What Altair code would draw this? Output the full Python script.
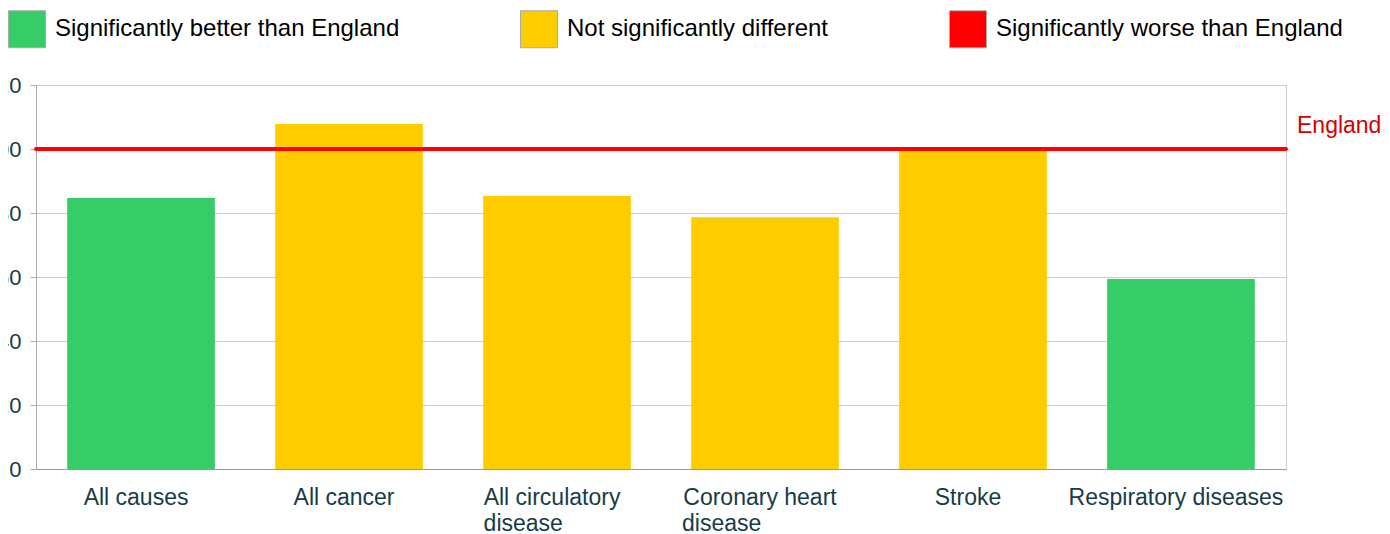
import altair as alt
import pandas as pd

NB = "\u00a0"
ZW = "\u200b"
causes = ["All causes", "All cancer", "All circulatory disease",
          "Coronary heart disease", "Stroke", "Respiratory diseases"]
labels = ["All causes", "All cancer", "All circulatory|disease" + NB * 9 + ZW,
          "Coronary heart|disease" + NB * 12 + ZW, "Stroke", "Respiratory diseases"]
values = [84.7, 107.8, 85.3, 78.7, 99.7, 59.4]
significance = ["Significantly better than England", "Not significantly different",
                "Not significantly different", "Not significantly different",
                "Not significantly different", "Significantly better than England"]
sig_domain = ["Significantly better than England", "Not significantly different",
              "Significantly worse than England"]
sig_colors = ["#36cd68", "#ffcc00", "#ff0000"]
england_value = 100
y_ticks = [0, 20, 40, 60, 80, 100, 120]

df = pd.DataFrame({"cause": labels, "value": values, "sig": significance})

FONT = "Liberation Sans"
TXT = "#173c48"

bars = alt.Chart(df).mark_bar().encode(
    x=alt.X("cause:N", sort=labels,
            scale=alt.Scale(paddingInner=0.29, paddingOuter=0.15),
            axis=alt.Axis(title=None, labelAngle=0, labelFontSize=23, labelFont=FONT,
                          labelColor=TXT, labelLineHeight=26, labelPadding=17,
                          labelExpr="split(datum.label, '|')", labelOffset=-5,
                          ticks=False, domainColor="#999999", labelLimit=400)),
    y=alt.Y("value:Q", scale=alt.Scale(domain=[0, 120], nice=False),
            axis=alt.Axis(title=None, values=y_ticks, labelFontSize=22, labelFont=FONT,
                          labelColor=TXT, tickSize=6, tickColor="#aaaaaa",
                          domainColor="#aaaaaa", gridColor="#cccccc", labelPadding=9)),
    color=alt.Color("sig:N", scale=alt.Scale(domain=sig_domain, range=sig_colors),
                    legend=alt.Legend(title=None, orient="none", legendX=-28, legendY=-75,
                                      direction="horizontal", symbolType="square",
                                      symbolSize=1369, symbolStrokeColor="#aaaaaa",
                                      symbolStrokeWidth=1, labelFontSize=24,
                                      labelFont=FONT, labelColor="#000000",
                                      labelOffset=9, columnPadding=118,
                                      labelLimit=600, padding=0)),
)

eng = pd.DataFrame({"v": [england_value], "t": ["England"]})
rule = alt.Chart(eng).mark_rule(color="#ff0000", strokeWidth=4, strokeCap="round").encode(
    y="v:Q")
label = alt.Chart(eng).mark_text(color="#d40000", fontSize=23, font=FONT, align="left",
                                 baseline="alphabetic", dx=11, dy=-16).encode(
    y="v:Q", x=alt.value(1250), text="t:N")

chart = alt.layer(bars, rule, label).properties(
    width=1250, height=384,
    autosize=alt.AutoSizeParams(type="none"),
    padding={"left": 28, "top": 77, "right": 96, "bottom": 65},
).configure_view(stroke="#cccccc")

chart.save("out.html", embed_options={"renderer": "svg", "actions": False})
